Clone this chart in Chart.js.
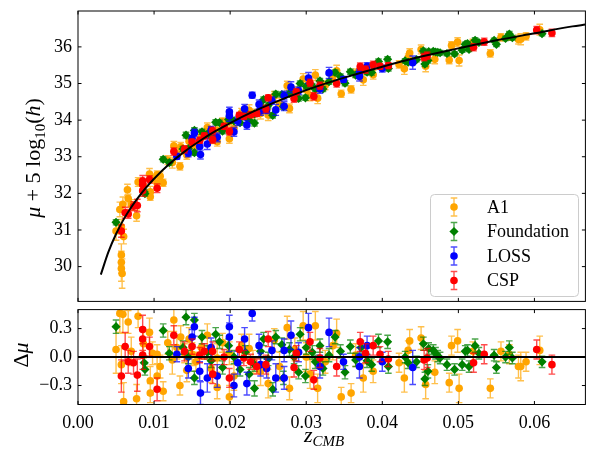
<!DOCTYPE html>
<html>
<head>
<meta charset="utf-8">
<script src="https://cdn.jsdelivr.net/npm/chart.js@4.4.0/dist/chart.umd.min.js"></script>
<style>
    html, body { margin: 0; padding: 0; background: #fff; }
    #wrap { position: relative; width: 590px; height: 451px; }
    #top { position: absolute; left: 0; top: 0; }
    #bot { position: absolute; left: 0; top: 305px; }
</style>
</head>
<body>
<div id="wrap">
    <canvas id="top" width="590" height="306"></canvas>
    <canvas id="bot" width="590" height="146"></canvas>
</div>
<script>
// Hubble diagram of the four SN samples with the model curve and residuals

// Axes
const xTicks = [0, 0.01, 0.02, 0.03, 0.04, 0.05, 0.06];
const muTicks = [30, 31, 32, 33, 34, 35, 36];
const resTicks = [-0.3, 0, 0.3];

const surveyNames = ['A1', 'Foundation', 'LOSS', 'CSP'];
const surveyColors = ['#ffa500', '#008000', '#0000ff', '#ff0000'];
const barColors = ['rgba(255,165,0,0.7)', 'rgba(0,128,0,0.7)', 'rgba(0,0,255,0.7)', 'rgba(255,0,0,0.7)'];
const surveyMarkers = ['circle', 'rectRot', 'circle', 'circle'];

// Model curve
const curveZ = [0.003, 0.004, 0.005, 0.006, 0.007, 0.008, 0.009, 0.010, 0.012, 0.014, 0.016, 0.018,
    0.020, 0.023, 0.026, 0.030, 0.035, 0.040, 0.045, 0.050, 0.055, 0.060, 0.065, 0.0667];
const curveMu = [29.78, 30.40, 30.89, 31.29, 31.62, 31.91, 32.17, 32.40, 32.80, 33.14, 33.43, 33.69,
    33.92, 34.23, 34.50, 34.82, 35.16, 35.46, 35.73, 35.96, 36.18, 36.37, 36.56, 36.61];

// A1
const zA1 = [0.0050, 0.0055, 0.0057, 0.0057, 0.0057, 0.0057, 0.0058, 0.0059, 0.0060, 0.0065, 0.0066, 0.0070,
    0.0077, 0.0079, 0.0086, 0.0094, 0.0095, 0.0095, 0.0098, 0.0104, 0.0104, 0.0108, 0.0112, 0.0118,
    0.0124, 0.0126, 0.0130, 0.0134, 0.0135, 0.0140, 0.0143, 0.0146, 0.0150, 0.0155, 0.0162, 0.0170,
    0.0175, 0.0183, 0.0183, 0.0190, 0.0199, 0.0199, 0.0205, 0.0215, 0.0225, 0.0230, 0.0240, 0.0250,
    0.0258, 0.0265, 0.0275, 0.0278, 0.0285, 0.0296, 0.0300, 0.0305, 0.0312, 0.0315, 0.0325, 0.0335,
    0.0340, 0.0346, 0.0359, 0.0365, 0.0375, 0.0388, 0.0422, 0.0429, 0.0434, 0.0436, 0.0451, 0.0457,
    0.0469, 0.0488, 0.0491, 0.0499, 0.0501, 0.0519, 0.0542, 0.0556, 0.0567, 0.0579, 0.0582, 0.0589, 0.0607];
const muA1 = [30.97, 31.56, 31.09, 30.32, 30.12, 29.95, 29.81, 31.70, 30.82, 32.10, 31.86, 31.68,
    31.39, 32.31, 32.21, 32.53, 32.04, 31.91, 32.40, 32.51, 32.28, 32.47, 32.29, 32.91,
    32.84, 33.30, 33.08, 32.74, 33.27, 33.18, 33.05, 33.42, 33.32, 33.31, 33.56, 33.80,
    33.51, 33.72, 33.41, 33.96, 33.49, 33.95, 33.78, 34.20, 34.27, 34.18, 34.18, 34.14,
    34.66, 34.45, 34.94, 34.32, 34.79, 35.12, 34.82, 34.68, 35.23, 34.60, 34.95, 35.19,
    35.35, 34.72, 34.84, 35.28, 35.10, 35.24, 35.52, 35.40, 35.71, 35.83, 35.93, 35.47,
    35.66, 35.64, 36.04, 36.13, 35.63, 36.11, 35.82, 36.26, 36.28, 36.20, 36.21, 36.29, 36.47];
const dmuA1 = [0.08, 0.46, -0.08, -0.85, -1.05, -1.22, -1.40, 0.45, -0.47, 0.64, 0.37, 0.06,
    -0.44, 0.43, 0.14, 0.26, -0.25, -0.38, 0.04, 0.03, -0.20, -0.10, -0.36, 0.15,
    -0.03, 0.39, 0.10, -0.30, 0.21, 0.04, -0.14, 0.19, 0.03, -0.05, 0.10, 0.23,
    -0.12, -0.01, -0.32, 0.15, -0.42, 0.04, -0.20, 0.12, 0.09, -0.05, -0.15, -0.28,
    0.18, -0.10, 0.31, -0.33, 0.08, 0.33, 0.00, -0.18, 0.33, -0.33, -0.05, 0.12,
    0.25, -0.42, -0.38, 0.02, -0.22, -0.15, -0.06, -0.22, 0.07, 0.17, 0.20, -0.29,
    -0.16, -0.27, 0.12, 0.17, -0.33, 0.06, -0.33, 0.06, 0.03, -0.10, -0.10, -0.05, 0.07];
const errA1 = [0.25, 0.20, 0.20, 0.30, 0.30, 0.35, 0.40, 0.20, 0.20, 0.15, 0.12, 0.15,
    0.15, 0.12, 0.15, 0.15, 0.15, 0.10, 0.12, 0.10, 0.12, 0.12, 0.10, 0.12,
    0.15, 0.12, 0.12, 0.10, 0.12, 0.10, 0.12, 0.12, 0.12, 0.10, 0.12, 0.12,
    0.15, 0.15, 0.12, 0.10, 0.12, 0.12, 0.15, 0.12, 0.15, 0.12, 0.15, 0.15,
    0.12, 0.15, 0.12, 0.12, 0.12, 0.15, 0.15, 0.15, 0.15, 0.15, 0.12, 0.15,
    0.15, 0.10, 0.10, 0.12, 0.15, 0.12, 0.10, 0.15, 0.10, 0.12, 0.12, 0.15,
    0.12, 0.10, 0.10, 0.12, 0.15, 0.10, 0.10, 0.10, 0.10, 0.12, 0.15, 0.10, 0.15];

// Foundation
const zFound = [0.0050, 0.0087, 0.0088, 0.0112, 0.0120, 0.0138, 0.0142, 0.0145, 0.0153, 0.0153, 0.0163, 0.0170,
    0.0175, 0.0181, 0.0186, 0.0190, 0.0198, 0.0205, 0.0213, 0.0220, 0.0225, 0.0232, 0.0232, 0.0240,
    0.0244, 0.0250, 0.0256, 0.0260, 0.0268, 0.0270, 0.0278, 0.0284, 0.0290, 0.0292, 0.0299, 0.0300,
    0.0308, 0.0312, 0.0318, 0.0322, 0.0330, 0.0338, 0.0345, 0.0351, 0.0358, 0.0365, 0.0372, 0.0380,
    0.0386, 0.0395, 0.0407, 0.0408, 0.0430, 0.0434, 0.0445, 0.0454, 0.0456, 0.0460, 0.0461, 0.0467,
    0.0470, 0.0473, 0.0476, 0.0485, 0.0495, 0.0505, 0.0509, 0.0512, 0.0514, 0.0522, 0.0527, 0.0547,
    0.0550, 0.0562, 0.0567, 0.0571, 0.0610];
const muFound = [31.21, 32.04, 31.99, 32.93, 32.84, 33.21, 33.59, 33.22, 33.72, 33.11, 33.68, 33.62,
    33.59, 33.94, 33.93, 33.70, 34.02, 33.98, 33.93, 34.18, 34.00, 33.92, 34.17, 34.39,
    34.56, 34.40, 34.13, 34.71, 34.70, 34.37, 34.73, 34.70, 34.59, 35.00, 34.61, 34.92,
    34.93, 34.85, 35.07, 34.85, 35.05, 35.30, 35.19, 35.01, 35.32, 35.23, 35.40, 35.31,
    35.30, 35.60, 35.66, 35.41, 35.62, 35.58, 35.65, 35.89, 35.53, 35.63, 35.87, 35.88,
    35.86, 35.85, 35.84, 35.82, 35.81, 35.91, 36.07, 36.09, 35.93, 36.18, 36.12, 36.18,
    36.07, 36.23, 36.35, 36.25, 36.36];
const dmuFound = [0.32, -0.06, -0.13, 0.28, 0.04, 0.10, 0.42, 0.00, 0.39, -0.22, 0.21, 0.05,
    -0.04, 0.24, 0.16, -0.11, 0.12, 0.00, -0.13, 0.05, -0.18, -0.33, -0.08, 0.06,
    0.19, -0.02, -0.34, 0.21, 0.13, -0.22, 0.08, 0.00, -0.16, 0.24, -0.20, 0.10,
    0.05, -0.05, 0.12, -0.12, 0.02, 0.21, 0.06, -0.16, 0.11, -0.03, 0.10, -0.04,
    -0.08, 0.17, 0.16, -0.10, 0.00, -0.06, -0.05, 0.14, -0.23, -0.15, 0.09, 0.07,
    0.04, 0.01, -0.01, -0.08, -0.13, -0.08, 0.06, 0.07, -0.10, 0.12, 0.04, 0.02,
    -0.11, 0.00, 0.10, -0.01, -0.05];
const errFound = [0.07, 0.07, 0.06, 0.07, 0.07, 0.07, 0.08, 0.07, 0.07, 0.07, 0.07, 0.07,
    0.07, 0.07, 0.07, 0.07, 0.07, 0.07, 0.07, 0.07, 0.07, 0.08, 0.07, 0.07,
    0.07, 0.07, 0.07, 0.07, 0.07, 0.07, 0.07, 0.07, 0.07, 0.07, 0.07, 0.07,
    0.07, 0.07, 0.07, 0.07, 0.07, 0.07, 0.07, 0.07, 0.07, 0.07, 0.07, 0.07,
    0.07, 0.07, 0.07, 0.07, 0.06, 0.06, 0.06, 0.07, 0.07, 0.07, 0.06, 0.06,
    0.06, 0.06, 0.06, 0.06, 0.06, 0.06, 0.06, 0.06, 0.06, 0.07, 0.06, 0.06,
    0.06, 0.06, 0.07, 0.06, 0.06];

// LOSS
const zLoss = [0.0130, 0.0145, 0.0150, 0.0153, 0.0160, 0.0161, 0.0170, 0.0175, 0.0183, 0.0199, 0.0199, 0.0205,
    0.0210, 0.0219, 0.0222, 0.0229, 0.0238, 0.0240, 0.0248, 0.0255, 0.0260, 0.0271, 0.0271, 0.0280,
    0.0290, 0.0303, 0.0318, 0.0330, 0.0349, 0.0370, 0.0370, 0.0380, 0.0400, 0.0440];
const muLoss = [33.01, 33.10, 33.50, 33.65, 33.28, 33.06, 33.35, 33.73, 33.53, 34.12, 34.23, 33.68,
    33.97, 34.31, 33.87, 34.68, 34.43, 34.25, 34.28, 34.53, 34.28, 34.38, 34.67, 34.90,
    34.80, 35.15, 34.85, 35.29, 35.11, 35.19, 35.29, 35.47, 35.41, 35.57];
const dmuLoss = [0.03, -0.12, 0.21, 0.32, -0.15, -0.38, -0.22, 0.10, -0.20, 0.21, 0.32, -0.30,
    -0.06, 0.19, -0.28, 0.46, 0.12, -0.08, -0.12, 0.07, -0.22, -0.22, 0.07, 0.23,
    0.05, 0.31, -0.10, 0.26, -0.05, -0.10, 0.00, 0.12, -0.05, -0.11];
const errLoss = [0.08, 0.10, 0.08, 0.10, 0.10, 0.12, 0.15, 0.10, 0.12, 0.15, 0.12, 0.12,
    0.12, 0.12, 0.12, 0.08, 0.12, 0.12, 0.10, 0.10, 0.15, 0.12, 0.12, 0.15,
    0.10, 0.15, 0.12, 0.15, 0.08, 0.12, 0.10, 0.10, 0.10, 0.18];

// CSP
const zCsp = [0.0057, 0.0062, 0.0066, 0.0073, 0.0078, 0.0085, 0.0085, 0.0085, 0.0094, 0.0104, 0.0126, 0.0140,
    0.0150, 0.0160, 0.0166, 0.0177, 0.0177, 0.0192, 0.0199, 0.0212, 0.0218, 0.0227, 0.0235, 0.0247,
    0.0250, 0.0284, 0.0287, 0.0305, 0.0310, 0.0318, 0.0340, 0.0371, 0.0378, 0.0388, 0.0397, 0.0408,
    0.0455, 0.0459, 0.0520, 0.0534, 0.0603, 0.0623];
const muCsp = [30.97, 31.47, 31.44, 31.65, 31.67, 32.34, 32.24, 32.07, 32.38, 32.14, 33.14, 33.20,
    33.40, 33.45, 33.57, 33.71, 33.47, 33.83, 33.69, 34.13, 34.10, 34.15, 34.18, 34.31,
    34.61, 34.59, 34.77, 35.02, 34.65, 34.94, 35.00, 35.46, 35.38, 35.51, 35.47, 35.49,
    35.72, 35.76, 35.99, 36.14, 36.46, 36.38];
const dmuCsp = [-0.20, 0.11, -0.05, -0.06, -0.19, 0.29, 0.19, 0.02, 0.11, -0.34, 0.23, 0.06,
    0.11, 0.02, 0.06, 0.06, -0.18, 0.00, -0.22, 0.08, -0.01, -0.05, -0.10, -0.08,
    0.19, -0.11, 0.04, 0.16, -0.24, -0.01, -0.10, 0.16, 0.04, 0.12, 0.03, -0.02,
    -0.03, -0.01, -0.06, 0.03, 0.08, -0.08];
const errCsp = [0.17, 0.15, 0.12, 0.12, 0.17, 0.15, 0.12, 0.15, 0.10, 0.12, 0.10, 0.10,
    0.08, 0.08, 0.08, 0.10, 0.10, 0.08, 0.10, 0.08, 0.08, 0.08, 0.08, 0.10,
    0.08, 0.10, 0.08, 0.10, 0.10, 0.10, 0.10, 0.10, 0.10, 0.10, 0.08, 0.08,
    0.10, 0.10, 0.10, 0.10, 0.10, 0.10];

const surveys = [
    { z: zA1, mu: muA1, dmu: dmuA1, err: errA1 },
    { z: zFound, mu: muFound, dmu: dmuFound, err: errFound },
    { z: zLoss, mu: muLoss, dmu: dmuLoss, err: errLoss },
    { z: zCsp, mu: muCsp, dmu: dmuCsp, err: errCsp }
];

const serif = "'Liberation Serif', 'DejaVu Serif', serif";
const xMax = 0.0667;

function toPoints(xs, ys) {
    return xs.map((x, i) => ({ x: x, y: ys[i] }));
}

// One scatter dataset per survey, later surveys on top
function surveyDatasets(key) {
    return surveys.map((s, i) => ({
        label: surveyNames[i],
        data: toPoints(s.z, s[key]),
        errors: s.err,
        barColor: barColors[i],
        backgroundColor: surveyColors[i],
        borderColor: surveyColors[i],
        pointStyle: surveyMarkers[i],
        pointRadius: surveyMarkers[i] === 'rectRot' ? 4.6 : 3.8,
        pointBorderWidth: 0,
        showLine: false,
        order: 4 - i
    }));
}

// Vertical error bars with caps, drawn just under each dataset's markers
const errorBars = {
    id: 'errorBars',
    beforeDatasetDraw(chart, args) {
        const ds = chart.data.datasets[args.index];
        if (!ds.errors) return;
        const { ctx, chartArea: a, scales: { x, y } } = chart;
        ctx.save();
        ctx.beginPath();
        ctx.rect(a.left, a.top, a.right - a.left, a.bottom - a.top);
        ctx.clip();
        ctx.strokeStyle = ds.barColor;
        ctx.lineWidth = 1.4;
        ctx.beginPath();
        ds.data.forEach((p, i) => {
            const px = x.getPixelForValue(p.x);
            const lo = y.getPixelForValue(p.y - ds.errors[i]);
            const hi = y.getPixelForValue(p.y + ds.errors[i]);
            ctx.moveTo(px, lo); ctx.lineTo(px, hi);
            ctx.moveTo(px - 3.3, lo); ctx.lineTo(px + 3.3, lo);
            ctx.moveTo(px - 3.3, hi); ctx.lineTo(px + 3.3, hi);
        });
        ctx.stroke();
        ctx.restore();
    }
};

// Frame with inward ticks on all sides (and the zero line for residuals)
function framePlugin(yTickValues, zeroLine) {
    return {
        id: 'frame',
        afterDatasetsDraw(chart) {
            const { ctx, chartArea: a, scales: { x, y } } = chart;
            ctx.save();
            if (zeroLine) {
                const py = y.getPixelForValue(0);
                ctx.strokeStyle = '#000';
                ctx.lineWidth = 2;
                ctx.beginPath();
                ctx.moveTo(a.left, py);
                ctx.lineTo(a.right, py);
                ctx.stroke();
            }
            ctx.strokeStyle = '#000';
            ctx.lineWidth = 1;
            ctx.strokeRect(a.left, a.top, a.right - a.left, a.bottom - a.top);
            ctx.beginPath();
            xTicks.forEach(v => {
                const px = x.getPixelForValue(v);
                ctx.moveTo(px, a.top); ctx.lineTo(px, a.top + 3.5);
                ctx.moveTo(px, a.bottom); ctx.lineTo(px, a.bottom - 3.5);
            });
            yTickValues.forEach(v => {
                const py = y.getPixelForValue(v);
                ctx.moveTo(a.left, py); ctx.lineTo(a.left + 3.5, py);
                ctx.moveTo(a.right, py); ctx.lineTo(a.right - 3.5, py);
            });
            ctx.stroke();
            ctx.restore();
        }
    };
}

// Text made of pieces (italic symbols, subscripts), centred on (cx, cy)
function drawRich(ctx, parts, cx, cy, angle) {
    ctx.save();
    ctx.translate(cx, cy);
    ctx.rotate(angle);
    ctx.fillStyle = '#000';
    ctx.textBaseline = 'alphabetic';
    ctx.textAlign = 'left';
    let total = 0;
    parts.forEach(p => {
        ctx.font = p.font;
        p.w = ctx.measureText(p.text).width;
        total += p.w;
    });
    let px = -total / 2;
    parts.forEach(p => {
        ctx.font = p.font;
        ctx.fillText(p.text, px, p.dy || 0);
        px += p.w;
    });
    ctx.restore();
}

const big = '22px ' + serif;
const bigIt = 'italic 22px ' + serif;
const small = '15px ' + serif;
const smallIt = 'italic 15px ' + serif;

const topLabels = {
    id: 'topLabels',
    afterDraw(chart) {
        const ctx = chart.ctx;
        drawRich(ctx, [
            { text: 'μ', font: bigIt },
            { text: ' + 5 log', font: big },
            { text: '10', font: small, dy: 5 },
            { text: '(', font: big },
            { text: 'h', font: bigIt },
            { text: ')', font: big }
        ], 40, 158, -Math.PI / 2);

        // Legend box
        const bx = 430.5, by = 194.5, bw = 148, bh = 102, r = 4;
        ctx.save();
        ctx.beginPath();
        ctx.moveTo(bx + r, by);
        ctx.arcTo(bx + bw, by, bx + bw, by + bh, r);
        ctx.arcTo(bx + bw, by + bh, bx, by + bh, r);
        ctx.arcTo(bx, by + bh, bx, by, r);
        ctx.arcTo(bx, by, bx + bw, by, r);
        ctx.closePath();
        ctx.fillStyle = 'rgba(255,255,255,0.8)';
        ctx.fill();
        ctx.strokeStyle = '#cccccc';
        ctx.lineWidth = 1;
        ctx.stroke();

        surveyNames.forEach((name, i) => {
            const cy = 207 + i * 24.5;
            const mx = 454;
            ctx.strokeStyle = barColors[i];
            ctx.lineWidth = 1.4;
            ctx.beginPath();
            ctx.moveTo(mx, cy - 9); ctx.lineTo(mx, cy + 9);
            ctx.moveTo(mx - 3.3, cy - 9); ctx.lineTo(mx + 3.3, cy - 9);
            ctx.moveTo(mx - 3.3, cy + 9); ctx.lineTo(mx + 3.3, cy + 9);
            ctx.stroke();
            ctx.fillStyle = surveyColors[i];
            ctx.beginPath();
            if (surveyMarkers[i] === 'rectRot') {
                ctx.moveTo(mx, cy - 4.6); ctx.lineTo(mx + 4.6, cy);
                ctx.lineTo(mx, cy + 4.6); ctx.lineTo(mx - 4.6, cy);
                ctx.closePath();
            } else {
                ctx.arc(mx, cy, 3.8, 0, Math.PI * 2);
            }
            ctx.fill();
            ctx.fillStyle = '#000';
            ctx.font = '18px ' + serif;
            ctx.textBaseline = 'middle';
            ctx.fillText(name, 487, cy + 1);
        });
        ctx.restore();
    }
};

const botLabels = {
    id: 'botLabels',
    afterDraw(chart) {
        const ctx = chart.ctx;
        drawRich(ctx, [
            { text: 'Δ', font: big },
            { text: 'μ', font: bigIt }
        ], 28, 50, -Math.PI / 2);
        drawRich(ctx, [
            { text: 'z', font: bigIt },
            { text: 'CMB', font: smallIt, dy: 4 }
        ], 324, 137, 0);
    }
};

// No automatic padding from tick labels: the plot areas are placed exactly
function noPadding(s) {
    s.paddingTop = 0;
    s.paddingBottom = 0;
    s.paddingLeft = 0;
    s.paddingRight = 0;
}

function yAxis(min, max, tickValues, format) {
    return {
        type: 'linear',
        min: min,
        max: max,
        afterFit: s => { s.width = 78; noPadding(s); },
        afterBuildTicks: s => { s.ticks = tickValues.map(v => ({ value: v })); },
        grid: { display: false, drawTicks: false },
        border: { display: false },
        ticks: { padding: 6, color: '#000', font: { family: serif, size: 18 }, callback: format }
    };
}

const commonPlugins = {
    legend: { display: false },
    tooltip: { enabled: false }
};

// Upper panel: distance modulus
const topDatasets = surveyDatasets('mu');
topDatasets.push({
    type: 'line',
    label: 'model',
    data: toPoints(curveZ, curveMu),
    borderColor: '#000',
    borderWidth: 2,
    pointRadius: 0,
    showLine: true,
    fill: false,
    cubicInterpolationMode: 'monotone',
    order: 0
});

new Chart(document.getElementById('top'), {
    type: 'scatter',
    data: { datasets: topDatasets },
    options: {
        responsive: false,
        animation: false,
        layout: { padding: { top: 11, right: 2, bottom: 0.5, left: 0 } },
        plugins: commonPlugins,
        scales: {
            x: { type: 'linear', min: 0, max: xMax, display: false },
            y: yAxis(29.05, 36.98, muTicks, v => String(v))
        }
    },
    plugins: [errorBars, framePlugin(muTicks, false), topLabels]
});

// Lower panel: residuals
new Chart(document.getElementById('bot'), {
    type: 'scatter',
    data: { datasets: surveyDatasets('dmu') },
    options: {
        responsive: false,
        animation: false,
        layout: { padding: { top: 0.5, right: 2, bottom: 0, left: 0 } },
        plugins: commonPlugins,
        scales: {
            x: {
                type: 'linear',
                min: 0,
                max: xMax,
                afterFit: s => { s.height = 46.5; noPadding(s); },
                afterBuildTicks: s => { s.ticks = xTicks.map(v => ({ value: v })); },
                grid: { display: false, drawTicks: false },
                border: { display: false },
                ticks: {
                    padding: 8, color: '#000', autoSkip: false, maxRotation: 0,
                    font: { family: serif, size: 18 },
                    callback: v => v.toFixed(2)
                }
            },
            y: yAxis(-0.5, 0.5, resTicks, v => (v < 0 ? '\u2212' : '') + Math.abs(v).toFixed(1))
        }
    },
    plugins: [errorBars, framePlugin(resTicks, true), botLabels]
});
</script>
</body>
</html>
